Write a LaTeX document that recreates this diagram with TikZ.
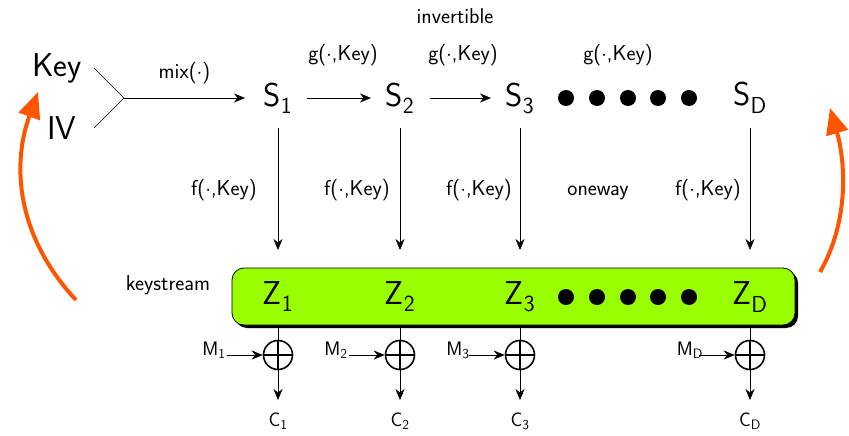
\documentclass[tikz,border=0pt]{standalone}
\usepackage{tikz}
\usetikzlibrary{arrows.meta, positioning, calc, shapes}
\usepackage{xcolor}
\definecolor{keygreen}{RGB}{153,255,0}
\definecolor{feedorange}{RGB}{255,85,0}
\renewcommand{\familydefault}{\sfdefault}

\tikzset{
  big/.style={font=\fontsize{33}{36}\selectfont},
  lbl/.style={font=\fontsize{21.5}{24}\selectfont},
  sub/.style={font=\fontsize{19.5}{22}\selectfont},
  flow/.style={-{Stealth[length=11pt,width=9pt]}, semithick},
  xorop/.style={circle, draw, line width=1.6pt, minimum size=29pt, inner sep=0pt},
  feedback/.style={-{Triangle[length=26pt,width=22pt]}, feedorange, line width=4pt}
}

\begin{document}
\begin{tikzpicture}[x=1pt, y=-1pt]
  \useasboundingbox (0,0) rectangle (849,436);
  % inputs
  \node[big] (key) at (57,68) {Key};
  \node[big] (iv) at (62,128) {IV};
  \coordinate (join) at (124,98);
  \draw[semithick] (94,68) -- (join) -- (94,128);
  % states
  \node[big] (s1) at (278,98) {S\textsubscript{1}};
  \node[big] (s2) at (400,98) {S\textsubscript{2}};
  \node[big] (s3) at (520,98) {S\textsubscript{3}};
  \node[big] (sd) at (750,98) {S\textsubscript{D}};
  \foreach \x in {566,597,628,658,689}
    \fill (\x,98) circle (8pt);
  \draw[flow] (join) -- (245,98) node[midway, above=10pt, lbl] (mix) {mix($\cdot$)};
  \draw[flow] (307,98) -- (371,98);
  \draw[flow] (430,98) -- (491,98);
  \node[lbl] (g1) at (343,55) {g($\cdot$,Key)};
  \node[lbl] (g2) at (463,55) {g($\cdot$,Key)};
  \node[lbl] (g3) at (618,55) {g($\cdot$,Key)};
  \node[lbl] (inv) at (455,16) {invertible};
  % keystream box
  \fill[rounded corners=12pt] (235,271) rectangle (798,328);
  \draw[fill=keygreen, thick, rounded corners=12pt] (232,268) rectangle (795,325);
  \node[lbl] (ks) at (168,285) {keystream};
  \node[big] (z1) at (278,297) {Z\textsubscript{1}};
  \node[big] (z2) at (400,297) {Z\textsubscript{2}};
  \node[big] (z3) at (520,297) {Z\textsubscript{3}};
  \node[big] (zd) at (750,297) {Z\textsubscript{D}};
  \foreach \x in {566,597,628,658,689}
    \fill (\x,297) circle (8pt);
  % one-way outputs
  \foreach \n/\x/\lx in {1/278/224,2/400/357,3/520/479,D/750/708} {
    \coordinate (top\n) at (\x,128);
    \coordinate (bot\n) at (\x,250);
    \draw[flow] (top\n) -- (bot\n);
    \node[lbl] (f\n) at (\lx,190) {f($\cdot$,Key)};
  }
  \node[lbl] (oneway) at (598,193) {oneway};
  % xor with message
  \foreach \n/\x/\mx in {1/278/214,2/400/336,3/520/458,D/750/690} {
    \node[xorop] (x\n) at (\x,355) {};
    \draw[line width=1.6pt] (x\n.north) -- (x\n.south) (x\n.west) -- (x\n.east);
    \draw[semithick] (\x,325) -- (x\n.north);
    \node[sub, anchor=south] (m\n) at (\mx,362) {M\textsubscript{\n}};
    \draw[flow] ($(x\n.west)+(-36,0)$) -- (x\n.west);
    \coordinate (out\n) at (\x,400);
    \draw[flow] (x\n.south) -- (out\n);
    \node[sub] (c\n) at (\x,421) {C\textsubscript{\n}};
  }
  % feedback arrows
  \draw[feedback] (76,300) .. controls (20,240) and (10,170) .. (38,92);
  \draw[feedback] (820,272) .. controls (850,220) and (845,160) .. (830,108);
\end{tikzpicture}
\end{document}
